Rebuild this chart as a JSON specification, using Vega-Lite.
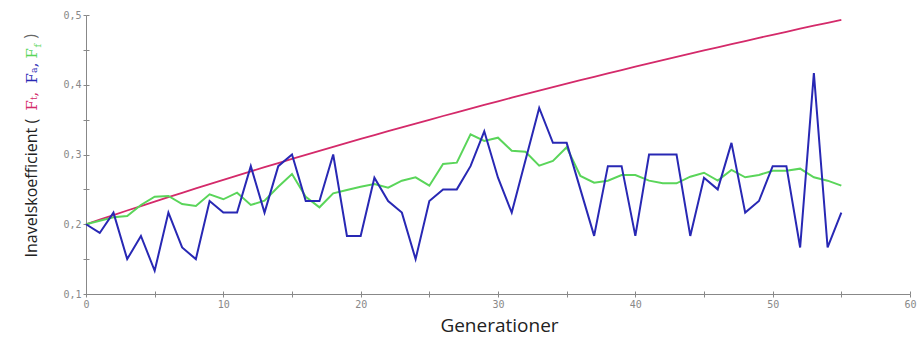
{
  "$schema": "https://vega.github.io/schema/vega-lite/v6.json",
  "width": 824,
  "height": 279,
  "autosize": {"type": "none"},
  "padding": {"left": 86, "top": 15, "right": 9, "bottom": 43},
  "background": "white",
  "config": {"view": {"stroke": null}, "axis": {"grid": false}},
  "title": {"text": ")", "orient": "left", "anchor": "end", "color": "#666", "font": "Open Sans", "fontSize": 16, "fontWeight": "normal", "offset": 0, "dx": -24, "dy": 16},
  "data": {"values": [
    {"gen": 0, "Ft": 0.2, "Fa": 0.2, "Ff": 0.2},
    {"gen": 1, "Ft": 0.2066, "Fa": 0.1875, "Ff": 0.2051},
    {"gen": 2, "Ft": 0.2132, "Fa": 0.2167, "Ff": 0.21},
    {"gen": 3, "Ft": 0.2197, "Fa": 0.15, "Ff": 0.2118},
    {"gen": 4, "Ft": 0.2261, "Fa": 0.1833, "Ff": 0.2276},
    {"gen": 5, "Ft": 0.2325, "Fa": 0.1333, "Ff": 0.2395},
    {"gen": 6, "Ft": 0.2388, "Fa": 0.2167, "Ff": 0.2405},
    {"gen": 7, "Ft": 0.2451, "Fa": 0.1667, "Ff": 0.229},
    {"gen": 8, "Ft": 0.2514, "Fa": 0.15, "Ff": 0.2262},
    {"gen": 9, "Ft": 0.2575, "Fa": 0.2333, "Ff": 0.2429},
    {"gen": 10, "Ft": 0.2637, "Fa": 0.2167, "Ff": 0.2358},
    {"gen": 11, "Ft": 0.2698, "Fa": 0.2167, "Ff": 0.2453},
    {"gen": 12, "Ft": 0.2758, "Fa": 0.2833, "Ff": 0.2276},
    {"gen": 13, "Ft": 0.2818, "Fa": 0.2167, "Ff": 0.2338},
    {"gen": 14, "Ft": 0.2877, "Fa": 0.2833, "Ff": 0.2538},
    {"gen": 15, "Ft": 0.2936, "Fa": 0.3, "Ff": 0.272},
    {"gen": 16, "Ft": 0.2994, "Fa": 0.2333, "Ff": 0.2395},
    {"gen": 17, "Ft": 0.3052, "Fa": 0.2333, "Ff": 0.2243},
    {"gen": 18, "Ft": 0.3109, "Fa": 0.3, "Ff": 0.2443},
    {"gen": 19, "Ft": 0.3166, "Fa": 0.1833, "Ff": 0.2491},
    {"gen": 20, "Ft": 0.3223, "Fa": 0.1833, "Ff": 0.2538},
    {"gen": 21, "Ft": 0.3279, "Fa": 0.2667, "Ff": 0.2577},
    {"gen": 22, "Ft": 0.3334, "Fa": 0.2333, "Ff": 0.2524},
    {"gen": 23, "Ft": 0.3389, "Fa": 0.2167, "Ff": 0.2625},
    {"gen": 24, "Ft": 0.3444, "Fa": 0.15, "Ff": 0.2673},
    {"gen": 25, "Ft": 0.3498, "Fa": 0.2333, "Ff": 0.2553},
    {"gen": 26, "Ft": 0.3552, "Fa": 0.25, "Ff": 0.2864},
    {"gen": 27, "Ft": 0.3605, "Fa": 0.25, "Ff": 0.2883},
    {"gen": 28, "Ft": 0.3658, "Fa": 0.2833, "Ff": 0.329},
    {"gen": 29, "Ft": 0.371, "Fa": 0.3333, "Ff": 0.3194},
    {"gen": 30, "Ft": 0.3762, "Fa": 0.2667, "Ff": 0.3241},
    {"gen": 31, "Ft": 0.3814, "Fa": 0.2167, "Ff": 0.3055},
    {"gen": 32, "Ft": 0.3865, "Fa": 0.2917, "Ff": 0.304},
    {"gen": 33, "Ft": 0.3915, "Fa": 0.3667, "Ff": 0.284},
    {"gen": 34, "Ft": 0.3966, "Fa": 0.3167, "Ff": 0.2907},
    {"gen": 35, "Ft": 0.4016, "Fa": 0.3167, "Ff": 0.3103},
    {"gen": 36, "Ft": 0.4065, "Fa": 0.25, "Ff": 0.2692},
    {"gen": 37, "Ft": 0.4114, "Fa": 0.1833, "Ff": 0.2596},
    {"gen": 38, "Ft": 0.4163, "Fa": 0.2833, "Ff": 0.2625},
    {"gen": 39, "Ft": 0.4211, "Fa": 0.2833, "Ff": 0.2706},
    {"gen": 40, "Ft": 0.4259, "Fa": 0.1833, "Ff": 0.2706},
    {"gen": 41, "Ft": 0.4306, "Fa": 0.3, "Ff": 0.2625},
    {"gen": 42, "Ft": 0.4353, "Fa": 0.3, "Ff": 0.2587},
    {"gen": 43, "Ft": 0.44, "Fa": 0.3, "Ff": 0.2587},
    {"gen": 44, "Ft": 0.4446, "Fa": 0.1833, "Ff": 0.2682},
    {"gen": 45, "Ft": 0.4492, "Fa": 0.2667, "Ff": 0.2739},
    {"gen": 46, "Ft": 0.4537, "Fa": 0.25, "Ff": 0.2625},
    {"gen": 47, "Ft": 0.4582, "Fa": 0.3167, "Ff": 0.2778},
    {"gen": 48, "Ft": 0.4627, "Fa": 0.2167, "Ff": 0.2673},
    {"gen": 49, "Ft": 0.4672, "Fa": 0.2333, "Ff": 0.2706},
    {"gen": 50, "Ft": 0.4716, "Fa": 0.2833, "Ff": 0.2768},
    {"gen": 51, "Ft": 0.4759, "Fa": 0.2833, "Ff": 0.2768},
    {"gen": 52, "Ft": 0.4803, "Fa": 0.1667, "Ff": 0.2797},
    {"gen": 53, "Ft": 0.4846, "Fa": 0.4167, "Ff": 0.2673},
    {"gen": 54, "Ft": 0.4888, "Fa": 0.1667, "Ff": 0.2625},
    {"gen": 55, "Ft": 0.493, "Fa": 0.2167, "Ff": 0.2553}
  ]},
  "layer": [
    {
      "mark": {"type": "line", "color": "#d42a6a", "strokeWidth": 1.8},
      "encoding": {
        "x": {"field": "gen", "type": "quantitative", "scale": {"domain": [0, 60], "nice": false},
          "axis": {"orient": "bottom", "values": [0, 5, 10, 15, 20, 25, 30, 35, 40, 45, 50, 55, 60],
            "labelExpr": "datum.value % 10 == 0 ? datum.label : ''", "labelFlush": false, "labelOverlap": false,
            "labelFont": "DejaVu Sans Mono", "labelFontSize": 10, "labelColor": "#888", "labelPadding": 2,
            "tickSize": 3, "tickColor": "#888", "domainColor": "#888",
            "title": "Generationer", "titleFont": "Open Sans", "titleFontSize": 19, "titleFontWeight": "normal", "titleColor": "#222",
            "titleX": 413, "titleY": 37, "titleAlign": "center", "titleBaseline": "alphabetic"}},
        "y": {"field": "Ft", "type": "quantitative", "scale": {"domain": [0.1, 0.5], "nice": false, "zero": false},
          "axis": {"orient": "left", "values": [0.1, 0.15, 0.2, 0.25, 0.3, 0.35, 0.4, 0.45, 0.5],
            "labelExpr": "round(datum.value * 20) % 2 == 0 ? replace(format(datum.value, '.1f'), '.', ',') : ''", "labelOverlap": false,
            "labelFont": "DejaVu Sans Mono", "labelFontSize": 10, "labelColor": "#888", "labelPadding": 2,
            "tickSize": 3, "tickColor": "#888", "domainColor": "#888",
            "title": "Inavelskoefficient (", "titleFont": "Open Sans", "titleFontSize": 16, "titleFontWeight": "normal", "titleColor": "#222",
            "titleAngle": -90, "titleAlign": "left", "titleBaseline": "alphabetic", "titleX": -50, "titleY": 242}}
      }
    },
    {
      "mark": {"type": "line", "color": "#5ad55a", "strokeWidth": 2},
      "encoding": {
        "x": {"field": "gen", "type": "quantitative", "scale": {"domain": [0, 60], "nice": false},
          "axis": {"orient": "bottom", "values": [0, 5, 10, 15, 20, 25, 30, 35, 40, 45, 50, 55, 60], "labels": false, "domain": false,
            "tickSize": -3, "tickColor": "#888",
            "title": "F", "titleFont": "DejaVu Serif", "titleFontSize": 15, "titleFontWeight": "normal", "titleColor": "#5ad55a",
            "titleAngle": -90, "titleAlign": "left", "titleBaseline": "alphabetic", "titleX": -50, "titleY": -236}},
        "y": {"field": "Ff", "type": "quantitative", "scale": {"domain": [0.1, 0.5], "nice": false, "zero": false},
          "axis": {"orient": "left", "values": [0.1, 0.15, 0.2, 0.25, 0.3, 0.35, 0.4, 0.45, 0.5], "labels": false, "domain": false,
            "tickSize": -3, "tickColor": "#888",
            "title": "Fₜ,", "titleFont": "DejaVu Serif", "titleFontSize": 15, "titleFontWeight": "normal", "titleColor": "#d42a6a",
            "titleAngle": -90, "titleAlign": "left", "titleBaseline": "alphabetic", "titleX": -50, "titleY": 95}}
      }
    },
    {
      "mark": {"type": "line", "color": "#2828b4", "strokeWidth": 2},
      "encoding": {
        "x": {"field": "gen", "type": "quantitative", "scale": {"domain": [0, 60], "nice": false},
          "axis": {"orient": "bottom", "labels": false, "domain": false, "ticks": false,
            "title": "f", "titleFont": "DejaVu Serif", "titleFontSize": 10, "titleFontWeight": "normal", "titleColor": "#5ad55a",
            "titleAngle": -90, "titleAlign": "left", "titleBaseline": "alphabetic", "titleX": -46, "titleY": -247}},
        "y": {"field": "Fa", "type": "quantitative", "scale": {"domain": [0.1, 0.5], "nice": false, "zero": false},
          "axis": {"orient": "left", "labels": false, "domain": false, "ticks": false,
            "title": "Fₐ,", "titleFont": "DejaVu Serif", "titleFontSize": 15, "titleFontWeight": "normal", "titleColor": "#2828b4",
            "titleAngle": -90, "titleAlign": "left", "titleBaseline": "alphabetic", "titleX": -50, "titleY": 68}}
      }
    }
  ],
  "resolve": {"scale": {"x": "independent", "y": "independent"}, "axis": {"x": "independent", "y": "independent"}}
}
